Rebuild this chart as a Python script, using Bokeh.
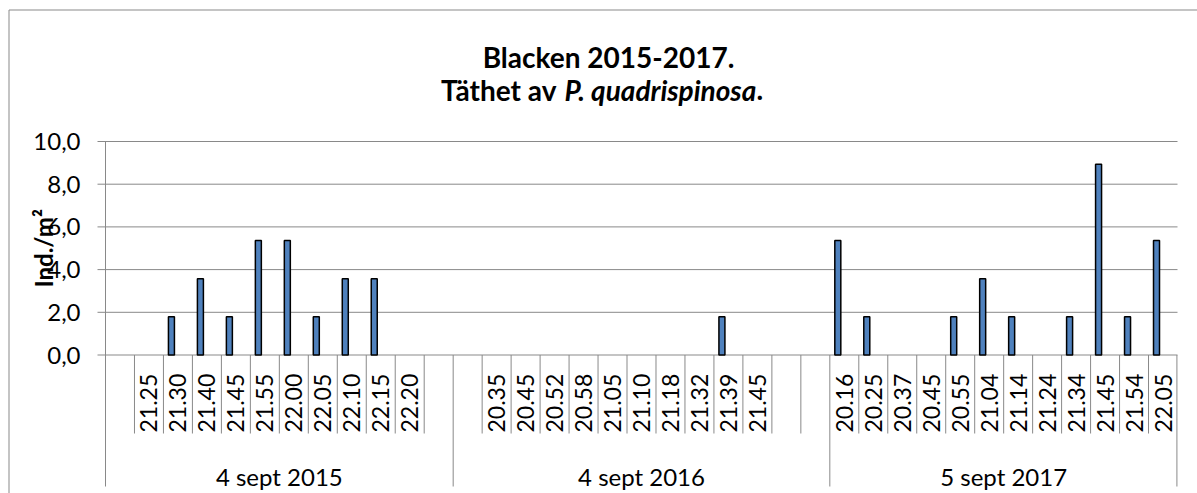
from math import pi
from bokeh.plotting import figure
from bokeh.models import Range1d
from bokeh.core.properties import value
from bokeh.embed import file_html
from bokeh.resources import INLINE

# ---------------- data ----------------
groups = ["4 sept 2015", "4 sept 2016", "5 sept 2017"]

times_2015 = ["", "21.25", "21.30", "21.40", "21.45", "21.55", "22.00",
              "22.05", "22.10", "22.15", "22.20", ""]
dens_2015 = [0, 0, 1.79, 3.57, 1.79, 5.36, 5.36, 1.79, 3.57, 3.57, 0, 0]

times_2016 = ["", "20.35", "20.45", "20.52", "20.58", "21.05", "21.10",
              "21.18", "21.32", "21.39", "21.45", "", ""]
dens_2016 = [0, 0, 0, 0, 0, 0, 0, 0, 0, 1.79, 0, 0, 0]

times_2017 = ["20.16", "20.25", "20.37", "20.45", "20.55", "21.04", "21.14",
              "21.24", "21.34", "21.45", "21.54", "22.05"]
dens_2017 = [5.36, 1.79, 0, 0, 1.79, 3.57, 1.79, 0, 1.79, 8.93, 1.79, 5.36]

y_ticks = [0, 2, 4, 6, 8, 10]
y_tick_labels = [f"{t:.1f}".replace(".", ",") for t in y_ticks]

title_line1 = "Blacken 2015-2017."
title_line2_a = "Täthet av"
title_line2_b = "P. quadrispinosa"
title_line2_c = "."
y_label = "Ind./m²"

# ---------------- layout (pixels of the canvas) ----------------
W, H = 1197, 493
PLOT_L, PLOT_R = 105, 1177        # plot area left/right
Y0_PX, YTOP_PX = 354.5, 141       # pixel rows of value 0 and of the top tick
GRAY = "#898989"
FONT = "Lato"
TITLE_SIZE = "28px"

all_times = times_2015 + times_2016 + times_2017
all_dens = dens_2015 + dens_2016 + dens_2017
group_sizes = [len(times_2015), len(times_2016), len(times_2017)]
n_slots = len(all_times)
y_max = max(y_ticks)

sx = (PLOT_R - PLOT_L) / n_slots          # pixels per slot
sy = (Y0_PX - YTOP_PX) / y_max            # pixels per unit


def px_to_x(px):
    return (px - PLOT_L) / sx


def px_to_y(py):
    return (Y0_PX - py) / sy


p = figure(width=W, height=H, output_backend="svg", toolbar_location=None,
           x_range=Range1d(px_to_x(0), px_to_x(W)),
           y_range=Range1d(px_to_y(H), px_to_y(0)),
           x_axis_location=None, y_axis_location=None,
           min_border=0, min_border_left=0, min_border_right=0,
           min_border_top=0, min_border_bottom=0)
p.outline_line_color = None
p.background_fill_color = "white"
p.border_fill_color = "white"
p.xgrid.visible = False
p.ygrid.visible = False

bottom_y = px_to_y(486)

# chart border (left and top edges visible in the crop)
bx0, by0 = px_to_x(8.5), px_to_y(9.5)
p.segment(x0=[bx0, bx0], y0=[by0, by0], x1=[bx0, px_to_x(W + 5)],
          y1=[px_to_y(H + 5), by0], line_color=GRAY, line_width=1)

# horizontal gridlines + tick marks (value axis)
p.segment(x0=[px_to_x(97)] * len(y_ticks), y0=y_ticks,
          x1=[n_slots] * len(y_ticks), y1=y_ticks,
          line_color=GRAY, line_width=1)

# value axis line
p.segment(x0=[0], y0=[y_max], x1=[0], y1=[bottom_y], line_color=GRAY,
          line_width=1)

# tick labels of the value axis
p.text(x=[px_to_x(80)] * len(y_ticks), y=y_ticks, text=y_tick_labels,
       text_align="right", text_baseline="middle", text_font=value(FONT),
       text_font_size="24px", text_color="black")

# separators in label row and group boundaries
label_row_bottom = px_to_y(433)
bounds = [0]
for s in group_sizes:
    bounds.append(bounds[-1] + s)
sep_x, sep_y1 = [], []
for k in range(1, n_slots + 1):
    sep_x.append(k - 0.02 if k == n_slots else k)
    sep_y1.append(bottom_y if k in bounds else label_row_bottom)
p.segment(x0=sep_x, y0=[0] * len(sep_x), x1=sep_x, y1=sep_y1,
          line_color=GRAY, line_width=1)

# bars (only non-zero values are drawn, like the original)
bar_offset = 6.5 / sx
bar_x = [i + 0.5 - bar_offset for i, v in enumerate(all_dens) if v > 0]
bar_top = [v for v in all_dens if v > 0]
p.vbar(x=bar_x, top=bar_top, bottom=0, width=6.0 / sx, fill_color="#4F81BD",
       line_color="black", line_width=1.5)

# time labels (rotated)
lx = [i + 0.5 for i, t in enumerate(all_times) if t]
lt = [t for t in all_times if t]
p.text(x=lx, y=[px_to_y(432)] * len(lx), text=lt, angle=pi / 2,
       text_align="left", text_baseline="middle", text_font=value(FONT),
       text_font_size="23px", text_color="black")

# group labels
gx = [(bounds[i] + bounds[i + 1]) / 2 for i in range(len(groups))]
p.text(x=gx, y=[px_to_y(476)] * len(gx), text=groups, text_align="center",
       text_baseline="alphabetic", text_font=value(FONT),
       text_font_size="24px", text_color="black")

# value axis title
p.text(x=[px_to_x(43)], y=[y_max / 2], text=[y_label], angle=pi / 2,
       text_align="center", text_baseline="middle", text_font=value(FONT),
       text_font_style="bold", text_font_size="24px", text_color="black")

# chart title
p.text(x=[px_to_x(608)], y=[px_to_y(56)], text=[title_line1],
       text_align="center", text_baseline="alphabetic", text_font=value(FONT),
       text_font_style="bold", text_font_size=TITLE_SIZE, text_color="black")
p.text(x=[px_to_x(556)], y=[px_to_y(89)], text=[title_line2_a],
       text_align="right", text_baseline="alphabetic", text_font=value(FONT),
       text_font_style="bold", text_font_size=TITLE_SIZE, text_color="black")
p.text(x=[px_to_x(564)], y=[px_to_y(89)], text=[title_line2_b],
       text_align="left", text_baseline="alphabetic", text_font=value(FONT),
       text_font_style="bold italic", text_font_size=TITLE_SIZE,
       text_color="black")
p.text(x=[px_to_x(756)], y=[px_to_y(89)], text=[title_line2_c],
       text_align="left", text_baseline="alphabetic", text_font=value(FONT),
       text_font_style="bold", text_font_size=TITLE_SIZE, text_color="black")

open("out.html", "w").write(file_html(p, INLINE))
